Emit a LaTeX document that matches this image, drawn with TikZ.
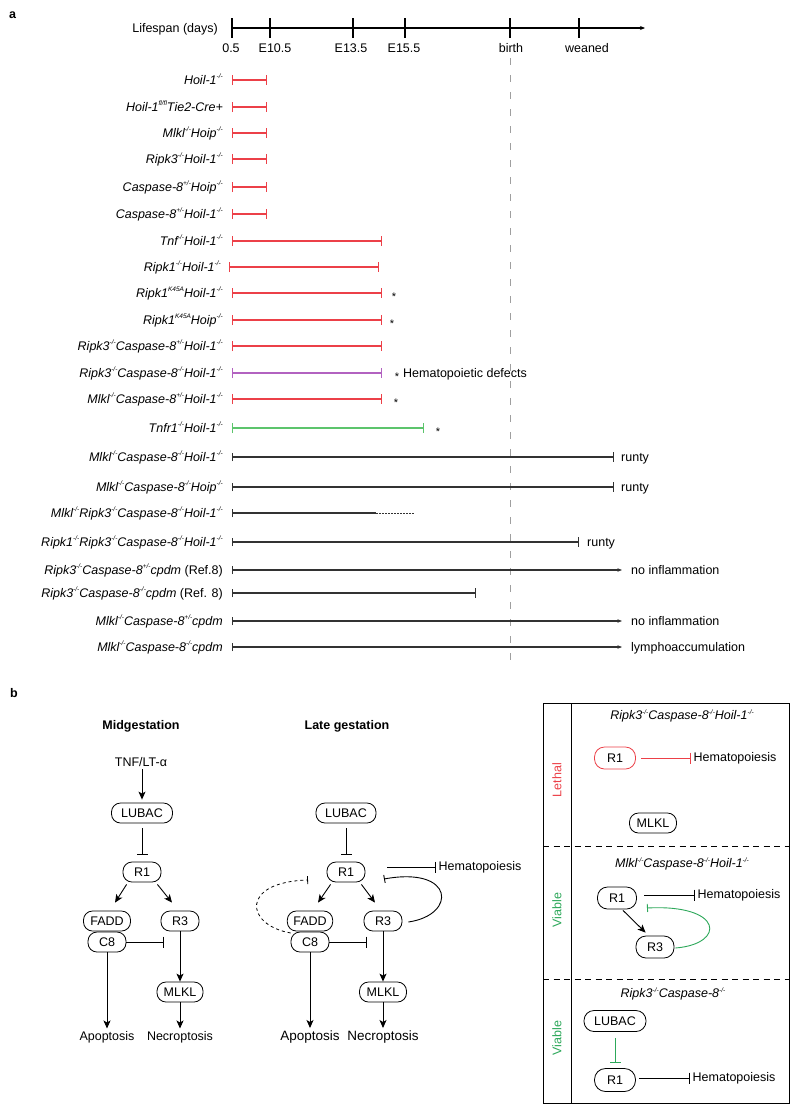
\documentclass[tikz,border=0pt]{standalone}
\usepackage{fontspec}
\setmainfont{Liberation Sans}
\usetikzlibrary{arrows.meta,calc}
\definecolor{rd}{RGB}{236,64,72}
\definecolor{pu}{RGB}{178,98,192}
\definecolor{gnbar}{RGB}{92,196,108}
\definecolor{gn}{RGB}{45,168,90}
\definecolor{dk}{RGB}{50,50,50}
\newcommand\fz{\fontsize{12.5}{15}\selectfont}
\newcommand\mysup[1]{\raisebox{0.85ex}{\fontsize{6.5}{6.5}\selectfont #1}}
\newcommand\ko{\mysup{-/-}}
\newcommand\het{\mysup{+/-}}
\begin{document}
\begin{tikzpicture}[x=1pt,y=-1pt,
  every node/.style={inner sep=0pt, font=\fz},
  lbl/.style={anchor=base east, font=\fz\itshape},
  note/.style={anchor=base west},
  star/.style={anchor=base, font=\fontsize{11}{12}\selectfont},
  rbar/.style={draw=rd, line width=1.1pt, {Bar[width=10pt]}-{Bar[width=10pt]}},
  pbar/.style={rbar, draw=pu},
  gbar/.style={rbar, draw=gnbar},
  kbar/.style={draw=dk, line width=1.1pt, {Bar[width=8pt]}-{Bar[width=10pt]}},
  kopen/.style={draw=dk, line width=1.1pt, {Bar[width=8pt]}-},
  karr/.style={draw=dk, line width=1.1pt, {Bar[width=8pt]}-{Stealth[length=4.5pt,width=3.5pt]}},
  tick/.style={line width=1.1pt},
  pill/.style={draw, rounded corners=9pt, minimum height=20pt, minimum width=38pt, inner xsep=6pt, line width=0.8pt},
  txt/.style={inner sep=2.5pt},
  arr/.style={line width=0.9pt, -{Stealth[length=8pt,width=7pt,inset=2pt]}},
  inh/.style={line width=0.9pt, -{Bar[width=11pt]}},
  ttl/.style={font=\fz\bfseries}]
\useasboundingbox (0,0) rectangle (800,1114);
\fill[white] (0,0) rectangle (800,1114);

% ---------- panel a ----------
\node[ttl, anchor=base west] (pa) at (9,18) {a};
\node[anchor=base east] (lifespan) at (218,32.5) {Lifespan (days)};
\coordinate (T0) at (232,28);
\coordinate (T1) at (645,28);
\draw[tick, -{Stealth[length=5pt,width=4pt]}] (T0) -- (T1);
\foreach \x in {232,270,353,405,510,579} \draw[tick] (\x,18) -- (\x,38);
\node[anchor=base] (t1) at (231,52.5) {0.5};
\node[anchor=base] (t2) at (275,52.5) {E10.5};
\node[anchor=base] (t3) at (351,52.5) {E13.5};
\node[anchor=base] (t4) at (404,52.5) {E15.5};
\node[anchor=base] (t5) at (511,52.5) {birth};
\node[anchor=base] (t6) at (587,52.5) {weaned};
\coordinate (B0) at (510,58);
\coordinate (B1) at (510,662);
\draw[gray!75, line width=0.9pt, dash pattern=on 7pt off 10pt] (B0) -- (B1);

% rows
\node[lbl] (L1) at (223,84.5) {Hoil-1\ko};
\coordinate (S1) at (232,80); \coordinate (E1) at (267,80);
\draw[rbar] (S1) -- (E1);

\node[lbl] (L2) at (223,111.5) {Hoil-1\mysup{fl/fl}Tie2-Cre+};
\coordinate (S2) at (232,107); \coordinate (E2) at (267,107);
\draw[rbar] (S2) -- (E2);

\node[lbl] (L3) at (223,137.5) {Mlkl\ko Hoip\ko};
\coordinate (S3) at (232,133); \coordinate (E3) at (267,133);
\draw[rbar] (S3) -- (E3);

\node[lbl] (L4) at (223,163.5) {Ripk3\ko Hoil-1\ko};
\coordinate (S4) at (232,159); \coordinate (E4) at (267,159);
\draw[rbar] (S4) -- (E4);

\node[lbl] (L5) at (223,191.5) {Caspase-8\het Hoip\ko};
\coordinate (S5) at (232,187); \coordinate (E5) at (267,187);
\draw[rbar] (S5) -- (E5);

\node[lbl] (L6) at (223,218.5) {Caspase-8\het Hoil-1\ko};
\coordinate (S6) at (232,214); \coordinate (E6) at (267,214);
\draw[rbar] (S6) -- (E6);

\node[lbl] (L7) at (223,245.5) {Tnf\ko Hoil-1\ko};
\coordinate (S7) at (232,241); \coordinate (E7) at (382,241);
\draw[rbar] (S7) -- (E7);

\node[lbl] (L8) at (221,271.5) {Ripk1\ko Hoil-1\ko};
\coordinate (S8) at (229,267); \coordinate (E8) at (379,267);
\draw[rbar] (S8) -- (E8);

\node[lbl] (L9) at (223,297.5) {Ripk1\mysup{K45A}Hoil-1\ko};
\coordinate (S9) at (232,293); \coordinate (E9) at (382,293);
\draw[rbar] (S9) -- (E9);
\node[star] (A9) at (394,300) {*};

\node[lbl] (L10) at (223,324.5) {Ripk1\mysup{K45A}Hoip\ko};
\coordinate (S10) at (232,320); \coordinate (E10) at (382,320);
\draw[rbar] (S10) -- (E10);
\node[star] (A10) at (392,327) {*};

\node[lbl] (L11) at (223,350.5) {Ripk3\ko Caspase-8\het Hoil-1\ko};
\coordinate (S11) at (232,346); \coordinate (E11) at (382,346);
\draw[rbar] (S11) -- (E11);

\node[lbl] (L12) at (223,377.5) {Ripk3\ko Caspase-8\ko Hoil-1\ko};
\coordinate (S12) at (232,373); \coordinate (E12) at (382,373);
\draw[pbar] (S12) -- (E12);
\node[star] (A12) at (397,380) {*};
\node[note] (N12) at (403,377.5) {Hematopoietic defects};

\node[lbl] (L13) at (223,403.5) {Mlkl\ko Caspase-8\het Hoil-1\ko};
\coordinate (S13) at (232,399); \coordinate (E13) at (382,399);
\draw[rbar] (S13) -- (E13);
\node[star] (A13) at (396,406) {*};

\node[lbl] (L14) at (223,432.5) {Tnfr1\ko Hoil-1\ko};
\coordinate (S14) at (232,428); \coordinate (E14) at (424,428);
\draw[gbar] (S14) -- (E14);
\node[star] (A14) at (438,435) {*};

\node[lbl] (L15) at (223,461.5) {Mlkl\ko Caspase-8\ko Hoil-1\ko};
\coordinate (S15) at (232,457); \coordinate (E15) at (614,457);
\draw[kbar] (S15) -- (E15);
\node[note] (N15) at (621,461.5) {runty};

\node[lbl] (L16) at (223,491.5) {Mlkl\ko Caspase-8\ko Hoip\ko};
\coordinate (S16) at (232,487); \coordinate (E16) at (614,487);
\draw[kbar] (S16) -- (E16);
\node[note] (N16) at (621,491.5) {runty};

\node[lbl] (L17) at (223,517.5) {Mlkl\ko Ripk3\ko Caspase-8\ko Hoil-1\ko};
\coordinate (S17) at (232,513); \coordinate (M17) at (376,513); \coordinate (E17) at (415,513);
\draw[kopen] (S17) -- (M17);
\draw[dk, line width=0.8pt, dash pattern=on 1.5pt off 1.5pt] (M17) -- (E17);

\node[lbl] (L18) at (223,546.5) {Ripk1\ko Ripk3\ko Caspase-8\ko Hoil-1\ko};
\coordinate (S18) at (232,542); \coordinate (E18) at (579,542);
\draw[kbar] (S18) -- (E18);
\node[note] (N18) at (587,546.5) {runty};

\node[lbl] (L19) at (223,574.5) {Ripk3\ko Caspase-8\het cpdm \textup{(Ref.8)}};
\coordinate (S19) at (232,570); \coordinate (E19) at (622,570);
\draw[karr] (S19) -- (E19);
\node[note] (N19) at (631,574.5) {no inflammation};

\node[lbl] (L20) at (223,597.5) {Ripk3\ko Caspase-8\ko cpdm \textup{(Ref. 8)}};
\coordinate (S20) at (232,593); \coordinate (E20) at (476,593);
\draw[kbar] (S20) -- (E20);

\node[lbl] (L21) at (223,625.5) {Mlkl\ko Caspase-8\het cpdm};
\coordinate (S21) at (232,621); \coordinate (E21) at (622,621);
\draw[karr] (S21) -- (E21);
\node[note] (N21) at (631,625.5) {no inflammation};

\node[lbl] (L22) at (223,651.5) {Mlkl\ko Caspase-8\ko cpdm};
\coordinate (S22) at (232,647); \coordinate (E22) at (622,647);
\draw[karr] (S22) -- (E22);
\node[note] (N22) at (631,651.5) {lymphoaccumulation};

% ---------- panel b ----------
\node[ttl, anchor=base west] (pb) at (10,697) {b};

% Midgestation
\node[ttl] (hm) at (141,726) {Midgestation};
\node[txt] (tnf) at (141,762) {TNF/LT-α};
\node[pill, minimum width=61pt] (lubm) at (142,813) {LUBAC};
\node[pill] (r1m) at (142,872) {R1};
\node[pill, minimum width=47pt] (faddm) at (107,921) {FADD};
\node[pill] (c8m) at (107,942) {C8};
\node[pill] (r3m) at (180,921) {R3};
\node[pill, minimum width=46pt] (mlklm) at (180,992) {MLKL};
\node[txt] (apm) at (107,1037) {Apoptosis};
\node[txt] (nem) at (180,1037) {Necroptosis};
\coordinate (c8mx) at (164,942);
\draw[arr, shorten >=3pt] (lubm|-tnf.south) -- (lubm.north);
\draw[inh] ($(lubm.south)+(0,5)$) -- ($(r1m.north)+(0,-7)$);
\draw[arr] ($(r1m.south west)+(4,2)$) -- ($(faddm.north)+(8,-8)$);
\draw[arr] ($(r1m.south east)+(-4,2)$) -- ($(r3m.north)+(-8,-8)$);
\draw[inh] (c8m.east) -- (c8mx);
\draw[arr] (r3m) -- (mlklm);
\draw[arr] (c8m) -- (apm);
\draw[arr] (mlklm) -- (nem);

% Late gestation
\node[ttl] (hl) at (347,726) {Late gestation};
\node[pill, minimum width=60pt] (lubl) at (346,813) {LUBAC};
\node[pill] (r1l) at (346,872) {R1};
\node[pill, minimum width=45pt] (faddl) at (310,921) {FADD};
\node[pill] (c8l) at (310,942) {C8};
\node[pill] (r3l) at (383,921) {R3};
\node[pill, minimum width=47pt] (mlkll) at (383,992) {MLKL};
\node[txt, font=\fontsize{13.5}{16}\selectfont] (apl) at (310,1037) {Apoptosis};
\node[txt, font=\fontsize{13.5}{16}\selectfont] (nel) at (383,1037) {Necroptosis};
\node[txt, anchor=west] (heml) at (436,867) {Hematopoiesis};
\coordinate (hl0) at (387,867);
\coordinate (c8lx) at (367,942);
\coordinate (dashend) at (308,880);
\coordinate (curend) at (384,879);
\draw[inh] ($(lubl.south)+(0,5)$) -- ($(r1l.north)+(0,-7)$);
\draw[arr] ($(r1l.south west)+(4,2)$) -- ($(faddl.north)+(8,-8)$);
\draw[arr] ($(r1l.south east)+(-4,2)$) -- ($(r3l.north)+(-8,-8)$);
\draw[inh] (c8l.east) -- (c8lx);
\draw[inh] (hl0) -- (heml.west);
\draw[arr] (r3l) -- (mlkll);
\draw[arr] (c8l) -- (apl);
\draw[arr] (mlkll) -- (nel);
\draw[line width=0.8pt, dashed, -{Bar[width=8pt]}] (c8l.155) .. controls (245,925) and (240,882) .. (dashend);
\draw[line width=0.9pt, -{Bar[width=8pt]}] ($(r3l.east)+(6,1)$) .. controls (457,915) and (455,866) .. (curend);

% Right panel
\draw[line width=1pt] (543,703) rectangle (789,1103);
\coordinate (dv0) at (571,703); \coordinate (dv1) at (571,1103);
\draw[line width=1pt] (dv0) -- (dv1);
\coordinate (hd1a) at (543,846); \coordinate (hd1b) at (789,846);
\coordinate (hd2a) at (543,979); \coordinate (hd2b) at (789,979);
\draw[line width=0.9pt, dash pattern=on 6pt off 4.5pt] (hd1a) -- (hd1b);
\draw[line width=0.9pt, dash pattern=on 6pt off 4.5pt] (hd2a) -- (hd2b);
\node[rotate=90, text=rd] (leth) at (557,780) {Lethal};
\node[rotate=90, text=gn] (via1) at (557,910) {Viable};
\node[rotate=90, text=gn] (via2) at (557,1038) {Viable};

\node[font=\fz\itshape] (ti1) at (682,716) {Ripk3\ko Caspase-8\ko Hoil-1\ko};
\node[pill, draw=rd, minimum width=41pt, minimum height=22pt, rounded corners=10pt] (r1a) at (615,758) {R1};
\node[txt, anchor=west] (hema) at (691,758) {Hematopoiesis};
\coordinate (ha0) at (641,758);
\draw[inh, draw=rd] (ha0) -- (hema.west);
\node[pill, minimum width=47pt] (mlkla) at (653,823) {MLKL};

\node[font=\fz\itshape] (ti2) at (682,864) {Mlkl\ko Caspase-8\ko Hoil-1\ko};
\node[pill, minimum width=39pt, minimum height=22pt, rounded corners=10pt] (r1b) at (617,898) {R1};
\node[pill, minimum width=38pt, minimum height=22pt, rounded corners=10pt] (r3b) at (655,947) {R3};
\node[txt, anchor=west] (hemb) at (695,895) {Hematopoiesis};
\coordinate (hb0) at (644,895);
\coordinate (gend) at (647,908);
\draw[inh] (hb0) -- (hemb.west);
\draw[arr] ($(r1b.south)+(6,1)$) -- ($(r3b.north west)+(10,-3)$);
\draw[gn, line width=0.9pt, -{Bar[width=8pt]}] ($(r3b.east)+(1,1)$) .. controls (726,944) and (724,904) .. (gend);

\node[font=\fz\itshape] (ti3) at (673,994) {Ripk3\ko Caspase-8\ko};
\node[pill, minimum width=62pt, minimum height=21pt, rounded corners=10pt] (lubc) at (615,1021) {LUBAC};
\node[pill, minimum width=41pt, minimum height=23pt, rounded corners=11pt] (r1c) at (615,1080) {R1};
\node[txt, anchor=west] (hemc) at (690,1078) {Hematopoiesis};
\coordinate (hc0) at (639,1078);
\draw[inh, draw=gn] ($(lubc.south)+(0,6)$) -- ($(r1c.north)+(0,-5)$);
\draw[inh] (hc0) -- (hemc.west);
\end{tikzpicture}
\end{document}
